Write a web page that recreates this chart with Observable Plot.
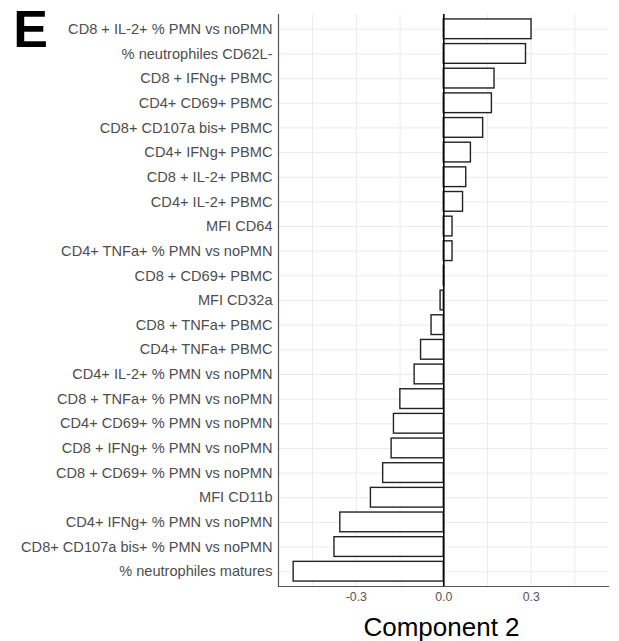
<!DOCTYPE html>
<html>
<head>
<meta charset="utf-8">
<script src="https://cdn.jsdelivr.net/npm/d3@7"></script>
<script src="https://cdn.jsdelivr.net/npm/@observablehq/plot@0.6"></script>
<style>
  html, body { margin: 0; padding: 0; background: #fff; }
  #chart svg { display: block; }
</style>
</head>
<body>
<div id="chart"></div>
<script>
const categories = [
  "CD8 + IL-2+ % PMN vs noPMN",
  "% neutrophiles CD62L-",
  "CD8 + IFNg+ PBMC",
  "CD4+ CD69+ PBMC",
  "CD8+ CD107a bis+ PBMC",
  "CD4+ IFNg+ PBMC",
  "CD8 + IL-2+ PBMC",
  "CD4+ IL-2+ PBMC",
  "MFI CD64",
  "CD4+ TNFa+ % PMN vs noPMN",
  "CD8 + CD69+ PBMC",
  "MFI CD32a",
  "CD8 + TNFa+ PBMC",
  "CD4+ TNFa+ PBMC",
  "CD4+ IL-2+ % PMN vs noPMN",
  "CD8 + TNFa+ % PMN vs noPMN",
  "CD4+ CD69+ % PMN vs noPMN",
  "CD8 + IFNg+ % PMN vs noPMN",
  "CD8 + CD69+ % PMN vs noPMN",
  "MFI CD11b",
  "CD4+ IFNg+ % PMN vs noPMN",
  "CD8+ CD107a bis+ % PMN vs noPMN",
  "% neutrophiles matures"
];
const component2 = [
  0.301, 0.282, 0.174, 0.165, 0.135, 0.093, 0.077, 0.066, 0.030, 0.030,
  0.001, -0.011, -0.042, -0.078, -0.100, -0.149, -0.171, -0.179, -0.208,
  -0.250, -0.355, -0.375, -0.515
];
const xTicks = [-0.3, 0, 0.3];
const xGrid = [-0.45, -0.3, -0.15, 0, 0.15, 0.3, 0.45];
const panelLetter = "E";
const xTitle = "Component 2";

const data = categories.map((c, i) => ({name: c, value: component2[i]}));

const chart = Plot.plot({
  width: 619,
  height: 641,
  marginLeft: 278,
  marginRight: 11,
  marginTop: 14,
  marginBottom: 55,
  style: {fontFamily: "'Liberation Sans', Arial, sans-serif", background: "#fff"},
  x: {domain: [-0.567, 0.565]},
  y: {domain: categories, padding: 0.2, round: false},
  marks: [
    Plot.gridX(xGrid, {stroke: "#ebebeb", strokeOpacity: 1, strokeWidth: 1}),
    Plot.gridY(categories, {stroke: "#ebebeb", strokeOpacity: 1, strokeWidth: 1}),
    Plot.barX(data, {x: "value", y: "name", fill: "white", stroke: "#222", strokeWidth: 1.4}),
    Plot.ruleX([0], {stroke: "#000", strokeWidth: 1.6}),
    Plot.frame({anchor: "left", stroke: "#555", strokeWidth: 1.2}),
    Plot.frame({anchor: "bottom", stroke: "#555", strokeWidth: 1.2}),
    Plot.axisY({tickSize: 0, tickPadding: 6, fontSize: 14.6, color: "#4d4d4d", label: null}),
    Plot.axisX({ticks: xTicks, tickFormat: d => d.toFixed(1), tickSize: 0, tickPadding: 6, fontSize: 12.3, color: "#555", label: null}),
    Plot.text([xTitle], {frameAnchor: "bottom", dx: -2, dy: 41, fontSize: 26, fill: "#000", lineAnchor: "middle"}),
    Plot.text([panelLetter], {frameAnchor: "top-left", dx: -248, dy: 16, fontSize: 52, fontWeight: "bold", fill: "#000", lineAnchor: "middle", textAnchor: "middle"})
  ]
});
document.getElementById("chart").appendChild(chart);
</script>
</body>
</html>
